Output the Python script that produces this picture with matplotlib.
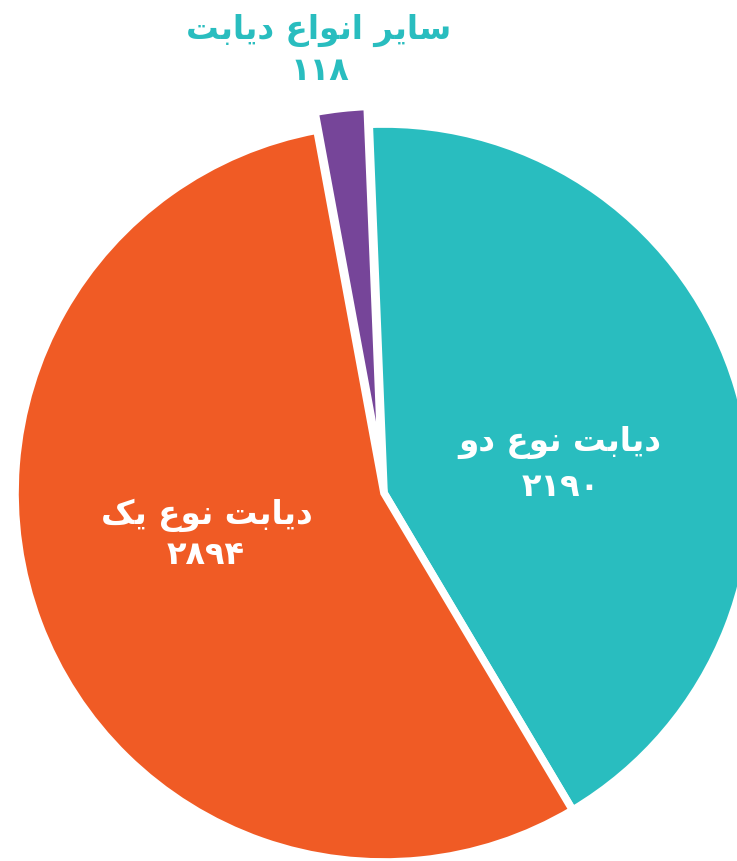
import matplotlib
matplotlib.use("Agg")
import matplotlib.pyplot as plt

# ---- data ----
categories = ["دیابت نوع دو", "دیابت نوع یک", "سایر انواع دیابت"]
values = [2190, 2894, 118]
value_labels = ["۲۱۹۰", "۲۸۹۴", "۱۱۸"]
colors = ["#29BDBF", "#F05B25", "#764599"]

# ---- minimal Arabic/Persian shaping (matplotlib has no complex text layout) ----
FORMS = {  # iso, fin, ini, med
    "\u0627": ("\uFE8D", "\uFE8E", None, None),
    "\u062F": ("\uFEA9", "\uFEAA", None, None),
    "\u0631": ("\uFEAD", "\uFEAE", None, None),
    "\u0648": ("\uFEED", "\uFEEE", None, None),
    "\u0628": ("\uFE8F", "\uFE90", "\uFE91", "\uFE92"),
    "\u062A": ("\uFE95", "\uFE96", "\uFE97", "\uFE98"),
    "\u0633": ("\uFEB1", "\uFEB2", "\uFEB3", "\uFEB4"),
    "\u0639": ("\uFEC9", "\uFECA", "\uFECB", "\uFECC"),
    "\u0646": ("\uFEE5", "\uFEE6", "\uFEE7", "\uFEE8"),
    "\u06CC": ("\uFBFC", "\uFBFD", "\uFBFE", "\uFBFF"),
    "\u06A9": ("\uFB8E", "\uFB8F", "\uFB90", "\uFB91"),
}


def dual(c):
    return c in FORMS and FORMS[c][2] is not None


def shape(text):
    out = []
    for i, c in enumerate(text):
        if c not in FORMS:
            out.append(c)
            continue
        prev = text[i - 1] if i > 0 else ""
        nxt = text[i + 1] if i + 1 < len(text) else ""
        jp = dual(prev)
        jn = dual(c) and nxt in FORMS
        iso, fin, ini, med = FORMS[c]
        if jp and jn:
            out.append(med)
        elif jn:
            out.append(ini)
        elif jp:
            out.append(fin)
        else:
            out.append(iso)
    return "".join(reversed(out))


W, H = 737, 861
fig = plt.figure(figsize=(W / 100, H / 100), dpi=100)
ax = fig.add_axes([0, 0, 1, 1])

cx, cy, R = 384, H - 493, 369
ax.pie(values, colors=colors, startangle=92.3, counterclock=False,
       center=(cx, cy), radius=R, explode=[0, 0, 18],
       wedgeprops=dict(edgecolor="white", linewidth=5.5), frame=True)
ax.set_xlim(0, W)
ax.set_ylim(0, H)
ax.axis("off")

tfont = dict(family="DejaVu Sans", fontsize=23.5, fontweight="bold")
nfont = dict(family="DejaVu Sans", fontsize=23, fontweight="bold")
# label positions in pixel coordinates (x, y from top)
ax.text(560, H - 442, shape(categories[0]), color="white", ha="center", va="center", **tfont)
ax.text(561, H - 487, value_labels[0], color="white", ha="center", va="center", **nfont)
ax.text(207, H - 515, shape(categories[1]), color="white", ha="center", va="center", **tfont)
ax.text(206, H - 556, value_labels[1], color="white", ha="center", va="center", **nfont)
ax.text(319, H - 30, shape(categories[2]), color=colors[0], ha="center", va="center", **tfont)
ax.text(320, H - 72, value_labels[2], color=colors[0], ha="center", va="center", **nfont)

fig.savefig("out.png", dpi=100, facecolor="white")
